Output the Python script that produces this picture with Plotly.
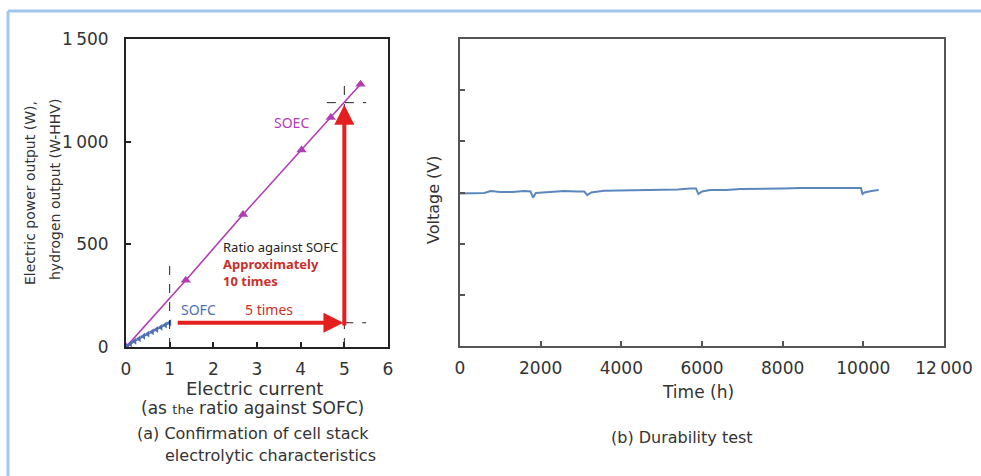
import plotly.graph_objects as go

# ---------------- data ----------------
# (a) cell stack electrolytic characteristics
soec_current = [0.0, 1.37, 2.68, 4.02, 4.69, 5.37]
soec_power = [0, 325, 645, 960, 1118, 1280]

sofc_current = [0.0, 0.1, 0.2, 0.3, 0.4, 0.5, 0.6, 0.7, 0.8, 0.9, 1.0]
sofc_power = [0, 15, 28, 40, 52, 63, 74, 85, 96, 107, 118]

sofc_max_current = 1.0
soec_ratio_current = 5.0
sofc_level = 118
soec_level = 1190
arrow_start_current = 1.15

# (b) durability test
time_h = [0, 300, 600, 760, 1000, 1300, 1600, 1750, 1810, 1880, 2100, 2400, 2580,
          2900, 3080, 3160, 3250, 3570, 4000, 4470, 5000, 5400, 5700, 5850, 5910,
          6000, 6200, 6600, 6950, 7500, 8000, 8440, 9000, 9500, 9940, 9980, 10030,
          10200, 10380]
voltage = [2.98, 2.98, 2.99, 3.03, 3.01, 3.01, 3.03, 3.02, 2.90, 2.99, 3.00, 3.02, 3.03,
           3.02, 3.02, 2.95, 3.00, 3.035, 3.04, 3.05, 3.06, 3.06, 3.08, 3.08, 2.97,
           3.02, 3.05, 3.05, 3.07, 3.07, 3.08, 3.09, 3.09, 3.09, 3.09, 2.97, 3.00,
           3.03, 3.05]

x1_ticks = [0, 1, 2, 3, 4, 5, 6]
y1_ticks = [0, 500, 1000, 1500]
y1_ticktext = ["0", "500", "1\u2009000", "1\u2009500"]
x2_ticks = [0, 2000, 4000, 6000, 8000, 10000, 12000]
x2_ticktext = ["0", "2000", "4000", "6000", "8000", "10000", "12\u2009000"]
y2_ticks = [1, 2, 3, 4, 5]

FONT = "DejaVu Sans"
SMALLFONT = "Noto Sans"
MAGENTA = "#b23cb4"
BLUE = "#4d6fb3"
RED = "#e3201f"
DARKRED = "#c8302a"

fig = go.Figure()

fig.add_trace(go.Scatter(
    x=soec_current, y=soec_power, mode="lines+markers",
    line=dict(color=MAGENTA, width=1.6),
    marker=dict(symbol="triangle-up", size=9, color=MAGENTA),
    xaxis="x", yaxis="y", showlegend=False))

fig.add_trace(go.Scatter(
    x=sofc_current, y=sofc_power, mode="lines+markers",
    line=dict(color=BLUE, width=1.5),
    marker=dict(symbol="triangle-left", size=6, color=BLUE),
    xaxis="x", yaxis="y", showlegend=False))

fig.add_trace(go.Scatter(
    x=time_h, y=voltage, mode="lines",
    line=dict(color="#5b87bd", width=2),
    xaxis="x2", yaxis="y2", showlegend=False))

# dashed guide lines
dash_style = dict(color="#222", width=1, dash="dash")
shapes = [
    dict(type="line", xref="x", yref="y", x0=sofc_max_current, x1=sofc_max_current,
         y0=0, y1=410, line=dash_style),
    dict(type="line", xref="x", yref="y", x0=soec_ratio_current, x1=soec_ratio_current,
         y0=0, y1=1290, line=dash_style),
    dict(type="line", xref="x", yref="y", x0=soec_ratio_current, x1=5.5,
         y0=sofc_level, y1=sofc_level, line=dash_style),
    dict(type="line", xref="x", yref="y", x0=4.6, x1=5.5,
         y0=soec_level, y1=soec_level, line=dash_style),
    # light blue page border
    dict(type="line", xref="paper", yref="paper", x0=8 / 981, x1=1,
         y0=1 - 11 / 476, y1=1 - 11 / 476, line=dict(color="#a3c7ec", width=3)),
    dict(type="line", xref="paper", yref="paper", x0=8 / 981, x1=8 / 981,
         y0=0, y1=1 - 11 / 476, line=dict(color="#a3c7ec", width=3)),
]

ann = []
# red arrows
ann.append(dict(x=soec_ratio_current - 0.02, y=sofc_level, ax=arrow_start_current, ay=sofc_level,
                xref="x", yref="y", axref="x", ayref="y", text="", showarrow=True,
                arrowhead=2, arrowsize=1, arrowwidth=4, arrowcolor=RED))
ann.append(dict(x=soec_ratio_current, y=soec_level - 10, ax=soec_ratio_current, ay=sofc_level - 20,
                xref="x", yref="y", axref="x", ayref="y", text="", showarrow=True,
                arrowhead=2, arrowsize=1, arrowwidth=4, arrowcolor=RED))

tf = dict(family=SMALLFONT, size=14)
ann += [
    dict(x=3.79, y=1094, xref="x", yref="y", text="SOEC", showarrow=False,
         font=dict(tf, color=MAGENTA)),
    dict(x=2.17, y=403, xref="x", yref="y",
         text=("Ratio against SOFC<br>"
               f"<span style='color:{DARKRED}'><b>Approximately<br>10 times</b></span>"),
         showarrow=False, align="left", xanchor="left", yanchor="middle",
         font=dict(family=SMALLFONT, size=13, color="#222")),
    dict(x=1.65, y=182, xref="x", yref="y", text="SOFC", showarrow=False,
         font=dict(tf, color=BLUE)),
    dict(x=3.27, y=182, xref="x", yref="y", text="5 times", showarrow=False,
         font=dict(tf, color=DARKRED)),
]

def px(xp, yp):
    return xp / 981, 1 - yp / 476

def add_text(xp, yp, text, size, angle=0, color="#333", xanchor="center", family=FONT):
    x, y = px(xp, yp)
    ann.append(dict(x=x, y=y, xref="paper", yref="paper", text=text, showarrow=False,
                    textangle=angle, xanchor=xanchor, yanchor="middle",
                    font=dict(family=family, size=size, color=color)))

add_text(30, 193, "Electric power output (W),", 14, angle=-90)
add_text(55, 190, "hydrogen output (W-HHV)", 14, angle=-90)
add_text(255, 388, "Electric current", 18)
add_text(252, 408, "(as <span style='font-size:13px'>the</span> ratio against SOFC)", 17)
add_text(253, 433, "(a) Confirmation of cell stack", 16)
add_text(270, 455, "electrolytic characteristics", 16)
add_text(433, 200, "Voltage (V)", 16, angle=-90)
add_text(698, 392, "Time (h)", 17)
add_text(682, 437, "(b) Durability test", 16)

tickfont = dict(family=FONT, size=17, color="#333")

common = dict(ticks="inside", ticklen=5, tickwidth=1.5, showline=True, linewidth=2,
              mirror=True, showgrid=False, zeroline=False, automargin=False)

fig.update_layout(
    template="none",
    width=981, height=476,
    margin=dict(l=0, r=0, t=0, b=0, pad=0, autoexpand=False),
    paper_bgcolor="white", plot_bgcolor="white",
    shapes=shapes, annotations=ann,
    xaxis=dict(common, domain=[126 / 981, 388 / 981], range=[0, 6], tickvals=x1_ticks,
               tickcolor="#222", linecolor="#222", tickfont=tickfont,
               ticklabelstandoff=6, anchor="y"),
    yaxis=dict(common, domain=[1 - 347 / 476, 1 - 39 / 476], range=[0, 1500],
               tickvals=y1_ticks, ticktext=y1_ticktext,
               tickcolor="#222", linecolor="#222", tickfont=tickfont,
               ticklabelstandoff=12, anchor="x"),
    xaxis2=dict(common, domain=[460 / 981, 944 / 981], range=[0, 12000], tickvals=x2_ticks,
                ticktext=x2_ticktext, tickcolor="#555", linecolor="#555", tickfont=tickfont,
                ticklabelstandoff=6, anchor="y2"),
    yaxis2=dict(common, domain=[1 - 346 / 476, 1 - 39 / 476], range=[0, 6], tickvals=y2_ticks,
                showticklabels=False, tickcolor="#555", linecolor="#555", anchor="x2"),
)

fig.write_html("out.html", config={"displayModeBar": False},
               post_script="document.body.style.margin='0';document.body.style.overflow='hidden';")
